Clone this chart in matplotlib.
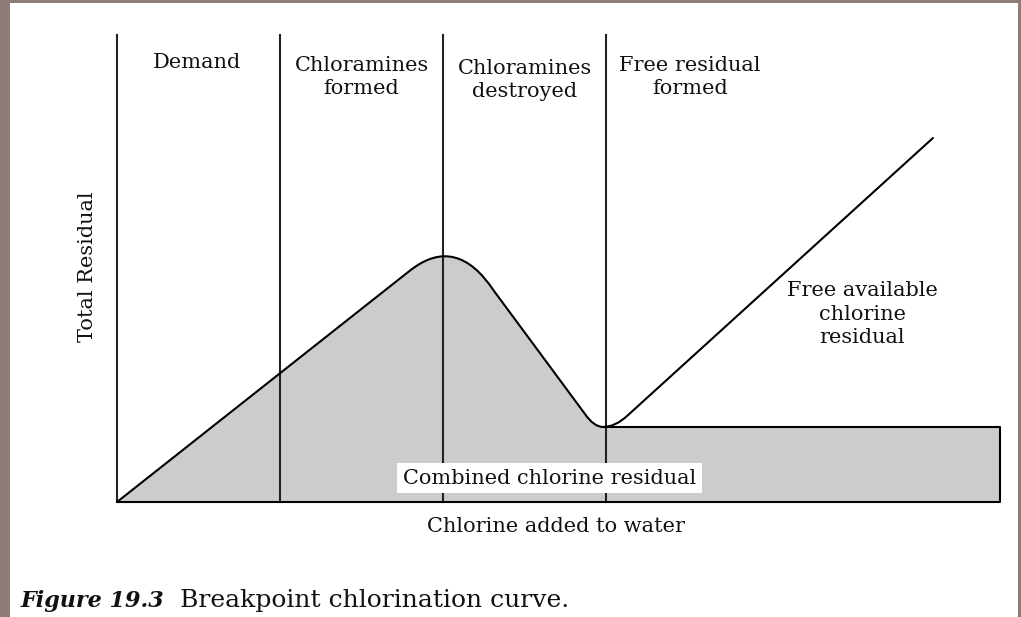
import matplotlib.pyplot as plt
from matplotlib.path import Path
from matplotlib.patches import PathPatch, Rectangle

# zone boundaries (chlorine added, arbitrary units)
zones = [0.0, 1.0, 2.0, 3.0]
zone_top = 4.67
zone_labels = ["Demand", "Chloramines\nformed", "Chloramines\ndestroyed", "Free residual\nformed"]
zone_label_x = [0.49, 1.50, 2.50, 3.515]
zone_label_y = [4.39, 4.25, 4.22, 4.25]

# breakpoint curve: rise, rounded peak, fall, rounded dip (x, y, path code)
curve_x = [0.0, 1.798, 2.082, 2.313, 2.871, 2.926, 2.982]
curve_y = [0.0, 2.315, 2.68, 2.11, 0.88, 0.75, 0.75]
curve_codes = [Path.MOVETO, Path.LINETO, Path.CURVE3, Path.CURVE3,
               Path.LINETO, Path.CURVE3, Path.CURVE3]

# combined residual plateau
plateau_y = 0.75
x_end = 5.417

# free available chlorine line
free_x = [2.982, 3.055, 3.129, 5.006]
free_y = [0.75, 0.75, 0.86, 3.64]
free_codes = [Path.MOVETO, Path.CURVE3, Path.CURVE3, Path.LINETO]

fig = plt.figure(figsize=(10.21, 6.17), dpi=100)
fig.patch.set_facecolor("#8e7c78")
ax = fig.add_axes([0, 0, 1, 1])
ax.set_xlim(-0.7178, 5.546)
ax.set_ylim(-1.15, 5.02)
ax.axis("off")

# white page
ax.add_patch(Rectangle((-0.656, -1.15), 6.184, 6.14, facecolor="white",
                       edgecolor="none", zorder=0))

grey = "#cccccc"
lw = 1.5

# filled area under curve + plateau box
fill_verts = list(zip(curve_x, curve_y)) + [(x_end, plateau_y), (x_end, 0.0), (0.0, 0.0), (0.0, 0.0)]
fill_codes = curve_codes + [Path.LINETO, Path.LINETO, Path.LINETO, Path.CLOSEPOLY]
ax.add_patch(PathPatch(Path(fill_verts, fill_codes), facecolor=grey, edgecolor="none", zorder=1))

# outline
ax.add_patch(PathPatch(Path(list(zip(curve_x, curve_y)), curve_codes), facecolor="none",
                       edgecolor="black", lw=lw, zorder=3, capstyle="round"))
ax.plot([curve_x[-1], x_end, x_end, 0.0], [plateau_y, plateau_y, 0.0, 0.0], color="black", lw=lw, zorder=3)
ax.add_patch(PathPatch(Path(list(zip(free_x, free_y)), free_codes), facecolor="none",
                       edgecolor="black", lw=lw, zorder=3, capstyle="round"))

# vertical zone lines
for zx in zones:
    ax.plot([zx, zx], [0.0, zone_top], color="#222222", lw=lw, zorder=2)

font = dict(family="DejaVu Serif", color="#111111")
fs = 15
for lab, lx, ly in zip(zone_labels, zone_label_x, zone_label_y):
    ax.text(lx, ly, lab, ha="center", va="center", fontsize=fs, linespacing=1.3, **font)

ax.text(4.571, 1.88, "Free available\nchlorine\nresidual", ha="center", va="center",
        fontsize=fs, linespacing=1.3, **font)
ax.text(2.653, 0.24, "Combined chlorine residual", ha="center", va="center", fontsize=fs,
        bbox=dict(facecolor="white", edgecolor="none", pad=4), zorder=4, **font)
ax.text(2.696, -0.25, "Chlorine added to water", ha="center", va="center", fontsize=fs, **font)
ax.text(-0.178, 2.35, "Total Residual", ha="center", va="center", rotation=90, fontsize=fs, **font)

# caption
ax.text(-0.595, -1.05, "Figure 19.3", ha="left", va="baseline", fontsize=16,
        style="italic", weight="bold", **font)
ax.text(0.387, -1.05, "Breakpoint chlorination curve.", ha="left", va="baseline", fontsize=18, **font)

fig.savefig("out.png", dpi=100)
